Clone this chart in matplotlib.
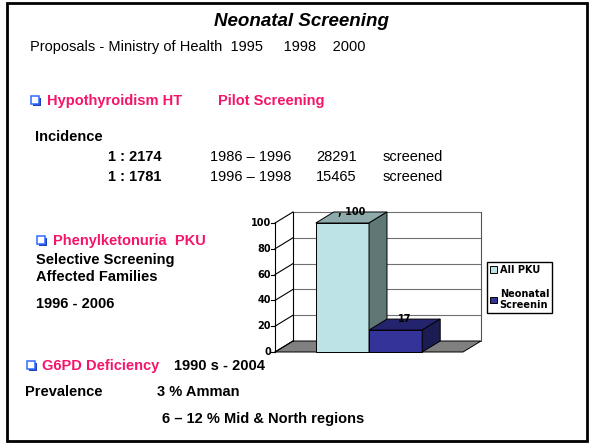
import matplotlib.pyplot as plt
from matplotlib.patches import Polygon, Rectangle, Patch

plt.rcParams['font.family'] = ['Liberation Sans', 'DejaVu Sans']

# chart data
series = ['All PKU', 'Neonatal\nScreenin']
values = [100, 17]
value_labels = [', 100', '17']
y_ticks = [0, 20, 40, 60, 80, 100]

front_colors = ['#BDE3E6', '#333399']
top_colors = ['#8FAAAA', '#24246E']
side_colors = ['#5F7876', '#1C1C52']

PINK = '#F5146A'
BLUE = '#2F6BFF'
CHART_FONT = 'DejaVu Sans'

fig = plt.figure(figsize=(5.95, 4.45), dpi=100)

# slide background in pixel coords
bg = fig.add_axes([0, 0, 1, 1])
bg.set_xlim(0, 595)
bg.set_ylim(445, 0)
bg.axis('off')
bg.add_patch(Rectangle((7, 3), 580, 438, fill=False, ec='black', lw=2))


def bullet(x, y):
    bg.add_patch(Rectangle((x + 1.5, y + 1.5), 8, 8, fc='#1F3FBF', ec='none'))
    bg.add_patch(Rectangle((x, y), 8, 8, fc='white', ec=BLUE, lw=1.1))


def txt(x, y, s, size=10.5, weight='bold', color='black', **kw):
    bg.text(x, y, s, fontsize=size, fontweight=weight, color=color,
            va='center', ha='left', **kw)


bg.text(302, 22, 'Neonatal Screening', fontsize=13.5, fontweight='bold',
        fontstyle='italic', ha='center', va='center')
txt(30, 47, 'Proposals - Ministry of Health  1995     1998    2000', weight='normal')

bullet(31, 96)
txt(47, 101, 'Hypothyroidism HT', color=PINK)
txt(218, 101, 'Pilot Screening', color=PINK)
txt(35, 137, 'Incidence')
txt(108, 157, '1 : 2174')
txt(210, 157, '1986 \u2013 1996', weight='normal')
txt(316, 157, '28291', weight='normal')
txt(383, 157, 'screened', weight='normal')
txt(108, 177, '1 : 1781')
txt(210, 177, '1996 \u2013 1998', weight='normal')
txt(316, 177, '15465', weight='normal')
txt(383, 177, 'screened', weight='normal')

bullet(37, 236)
txt(53, 241, 'Phenylketonuria  PKU', color=PINK)
txt(36, 260, 'Selective Screening')
txt(36, 277, 'Affected Families')
txt(36, 304, '1996 - 2006')

bullet(27, 361)
txt(42, 366, 'G6PD Deficiency', color=PINK)
txt(174, 366, '1990 s - 2004')
txt(25, 392, 'Prevalence')
txt(157, 392, '3 % Amman')
txt(162, 419, '6 \u2013 12 % Mid & North regions')

# pseudo 3D bar chart
ax = fig.add_axes([275 / 595, (445 - 352) / 445, 188 / 595, 129 / 445])
ax.set_xlim(0, 1)
ax.set_ylim(0, 100)
ax.axis('off')

dx = 18 / 188
dy = 11 / 1.29
bw = 0.283


def poly(pts, fc, z=2):
    ax.add_patch(Polygon(pts, closed=True, fc=fc, ec='black', lw=0.7,
                         clip_on=False, zorder=z))


def line(xs, ys, c='black', lw=0.8, z=1):
    ax.plot(xs, ys, color=c, lw=lw, clip_on=False, zorder=z)


# floor
poly([(0, 0), (1, 0), (1 + dx, dy), (dx, dy)], '#808080', z=1)
# back wall
for v in y_ticks[1:]:
    line([dx, 1 + dx], [v + dy, v + dy], c='#707070')
line([dx, dx], [dy, 100 + dy])
line([1 + dx, 1 + dx], [dy, 100 + dy], c='#555555')
# side wall / axis
line([0, 0], [0, 100])
for v in y_ticks:
    line([0, dx], [v, v + dy])
    line([-0.02, 0], [v, v])
    ax.text(-0.022, v, str(v), fontsize=7, fontweight='bold', family=CHART_FONT,
            ha='right', va='center')

for i, v in enumerate(values):
    x0 = 0.5 - bw + i * bw
    poly([(x0, 0), (x0 + bw, 0), (x0 + bw, v), (x0, v)], front_colors[i], z=3 + i)
    poly([(x0, v), (x0 + bw, v), (x0 + bw + dx, v + dy), (x0 + dx, v + dy)],
         top_colors[i], z=3 + i)
    poly([(x0 + bw, 0), (x0 + bw + dx, dy), (x0 + bw + dx, v + dy), (x0 + bw, v)],
         side_colors[i], z=3 + i)
    ax.text(x0 + bw / 2 + dx / 2, v + dy, value_labels[i], fontsize=7,
            fontweight='bold', family=CHART_FONT, ha='center', va='center', zorder=10)

handles = [Patch(fc=front_colors[i], ec='black', lw=0.7) for i in range(len(series))]
fig.legend(handles, series, loc='upper left',
           bbox_to_anchor=(487 / 595, 1 - 262 / 445),
           prop={'size': 7, 'weight': 'bold', 'family': CHART_FONT},
           frameon=True, fancybox=False,
           edgecolor='black', framealpha=1, handlelength=0.7, handleheight=0.7,
           handletextpad=0.3, labelspacing=1.4, borderpad=0.3, borderaxespad=0)

fig.savefig('out.png', dpi=100)
